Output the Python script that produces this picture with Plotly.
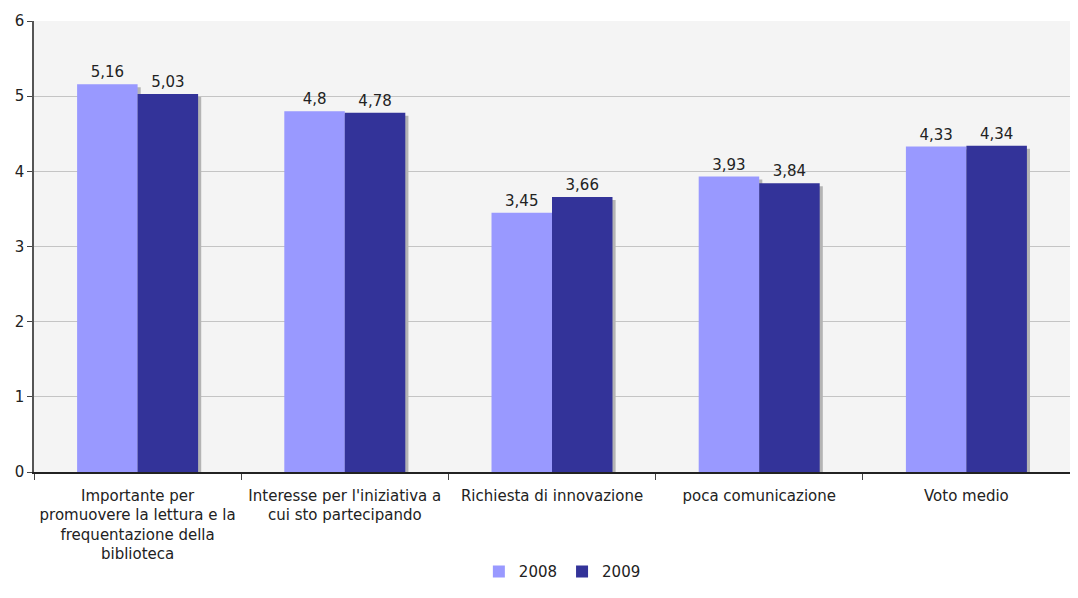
import plotly.graph_objects as go

categories = [
    "Importante per<br>promuovere la lettura e la<br>frequentazione della<br>biblioteca",
    "Interesse per l'iniziativa a<br>cui sto partecipando",
    "Richiesta di innovazione",
    "poca comunicazione",
    "Voto medio",
]
values_2008 = [5.16, 4.8, 3.45, 3.93, 4.33]
values_2009 = [5.03, 4.78, 3.66, 3.84, 4.34]
series_names = ["2008", "2009"]

BAR_W = 0.292
SHADOW_DX = 0.015
SHADOW_DY = 0.04
FONT = "DejaVu Sans, Verdana, sans-serif"


def fmt(v):
    return f"{v:g}".replace(".", ",")


fig = go.Figure()

# ombre grigie dietro le barre
for offset, vals in [(-BAR_W, values_2008), (0.0, values_2009)]:
    fig.add_trace(
        go.Bar(
            x=categories,
            y=[v - SHADOW_DY for v in vals],
            offset=offset + SHADOW_DX,
            width=BAR_W,
            marker=dict(color="#b4b4b4", line=dict(width=0)),
            showlegend=False,
            hoverinfo="skip",
        )
    )

for name, offset, vals, color in [
    (series_names[0], -BAR_W, values_2008, "#9999ff"),
    (series_names[1], 0.0, values_2009, "#333399"),
]:
    fig.add_trace(
        go.Bar(
            x=categories,
            y=vals,
            name=name,
            offset=offset,
            width=BAR_W,
            marker=dict(color=color, line=dict(width=0)),
            text=[fmt(v) for v in vals],
            textposition="outside",
            textfont=dict(size=15, color="#222222", family=FONT),
            cliponaxis=False,
        )
    )

# la pagina ha 8px di margine: la figura è ridotta per stare nella finestra
fig.update_layout(
    width=1062,
    height=582,
    barmode="overlay",
    paper_bgcolor="#ffffff",
    plot_bgcolor="#f4f4f4",
    margin=dict(l=26, r=0, t=13, b=118),
    font=dict(family=FONT, size=15, color="#222222"),
    legend=dict(
        orientation="h",
        x=0.51,
        xanchor="center",
        y=-0.258,
        yanchor="bottom",
        font=dict(size=15),
        itemwidth=30,
        tracegroupgap=0,
    ),
)
fig.update_xaxes(
    type="category",
    tickson="boundaries",
    ticks="outside",
    ticklen=6,
    tickcolor="#444444",
    ticklabelstandoff=9,
    showline=True,
    linecolor="#222222",
    linewidth=1.5,
    showgrid=False,
    range=[-0.5, 4.5],
    tickfont=dict(size=15),
    automargin=False,
)
fig.update_yaxes(
    range=[0, 6],
    dtick=1,
    ticks="outside",
    ticklen=5,
    tickcolor="#444444",
    showline=True,
    linecolor="#555555",
    linewidth=1.5,
    gridcolor="#c4c4c4",
    zeroline=False,
    tickfont=dict(size=15),
    automargin=False,
)

fig.write_html("out.html")
